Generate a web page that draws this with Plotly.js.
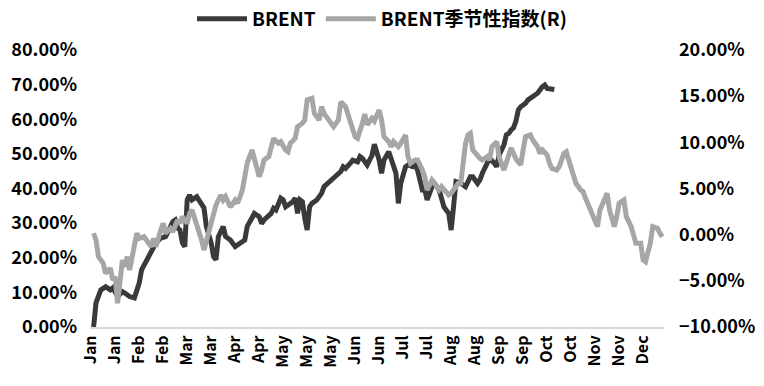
<!DOCTYPE html>
<html>
<head>
<meta charset="utf-8">
<script src="https://cdn.plot.ly/plotly-3.0.1.min.js"></script>
<style>html,body{margin:0;padding:0;background:#fff;}#chart{width:764px;height:386px;}</style>
</head>
<body>
<div id="chart"></div>
<script>
// Trading-day index within the year (x) and values in percent
var brentDays = [1,2,4,6,8,9,11,12,13,14,16,18,20,21,23,25,26,27,29,31,32,34,35,36,37,38,39,40,41,42,44,45,47,48,50,51,52,53,54,55,56,58,60,62,64,65,67,68,70,71,72,75,76,77,79,80,81,83,84,85,86,87,88,89,90,91,92,94,96,97,100,102,104,105,106,108,109,111,112,113,115,116,117,118,120,121,122,124,125,127,128,129,131,132,134,135,136,138,139,140,142,143,145,146,147,149,150,151,152,154,156,158,159,161,162,163,165,166,168,169,170,172,173,174,175,176,177,178,179,181,182,184,185,186,188,189,190,192,193];
var brentValues = [0,7,10.7,11.6,10.7,11.3,8.8,9.8,10.2,9.8,8.8,8.4,12.7,16.5,18.9,21.4,23.2,24.3,25.7,26.1,27.5,30.4,30.9,28.6,28.0,24.3,23.2,36.7,38.1,36.7,37.6,36.7,34.4,29.0,24.3,20.3,19.4,26.1,28.0,29.0,26.1,25.1,23.2,24.2,25.1,29.0,31.9,32.8,31.9,29.9,30.9,32.8,34.3,33.8,37.2,36.7,34.7,35.7,36.2,37.2,32.8,36.7,36.2,31.4,28.0,34.7,35.7,36.7,38.6,40.5,42.5,43.4,44.9,46.3,45.8,47.3,48.2,47.7,49.2,48.7,46.8,48.2,49.5,52.8,48.2,44.4,48.2,50.6,48.2,44.4,35.7,41.5,46.3,46.8,46.3,46.8,45.3,39.6,39.6,36.7,40.5,41.5,39.6,37.6,34.7,32.8,28.0,34.7,42.0,41.5,40.5,43.4,43.4,41.5,42.5,44.4,47.7,48.7,47.3,46.3,49.7,52.6,55.5,55.9,56.9,57.5,59.5,62.7,63.6,64.6,65.6,66.5,67.0,67.5,69.4,69.9,68.9,68.9,68.6];

var seasonDays = [1,2,3,5,6,8,9,10,11,12,13,14,15,16,18,19,20,22,23,25,26,27,29,30,31,33,34,36,37,38,40,41,42,43,45,46,47,48,50,51,52,54,55,56,57,58,60,61,63,64,65,67,68,70,71,72,74,75,76,78,79,81,82,83,85,86,88,89,90,92,93,95,96,97,99,100,101,103,104,106,107,108,110,111,113,114,115,117,118,120,121,122,124,125,126,128,129,131,132,133,135,136,138,139,140,142,143,145,146,147,149,150,152,153,154,156,157,158,159,161,162,163,165,166,167,169,170,172,174,175,177,179,180,181,183,184,186,187,188,190,191,192,194,195,197,198,199,201,202,204,205,206,208,209,211,212,213,215,216,218,219,220,222,223,225,226,227,229,230,231,233,234,236,237,238];
var seasonValues = [0.15,-0.58,-2.38,-3.1,-4.19,-3.64,-4.91,-4.55,-7.43,-5.27,-2.74,-3.47,-2.38,-3.83,-1.3,0.15,-0.4,-0.22,-0.58,-1.3,-0.4,-1.3,0.5,1.23,0.15,0.69,0.32,1.59,1.23,1.95,1.23,2.31,2.67,1.95,0.5,-0.58,-1.66,-0.58,1.23,2.67,3.21,4.3,3.75,4.11,3.6,3.0,3.75,3.4,4.84,6.28,7.73,9.17,8.09,6.28,7.0,8.09,8.45,9.53,10.43,9.89,10.07,9.17,8.99,9.89,10.43,11.7,12.06,12.42,14.59,14.77,13.14,12.42,13.86,13.14,12.42,12.24,11.7,12.42,14.4,13.86,12.78,12.24,10.61,10.43,12.06,13.05,11.9,12.6,12.3,13.5,12.42,10.61,10.07,9.53,10.07,9.53,9.89,10.8,8.45,7.73,8.09,8.09,7.0,6.28,4.84,5.92,5.56,4.84,5.2,4.84,4.3,4.48,5.2,5.56,5.56,9.89,10.8,10.98,9.17,8.45,8.27,8.09,8.45,8.09,9.53,10.07,8.4,7.0,8.45,9.4,8.2,7.55,9.17,10.61,10.8,10.25,9.53,8.81,9.17,8.63,7.73,7.18,7.0,7.36,8.81,8.99,8.09,6.28,5.56,4.84,4.66,3.94,2.67,1.95,0.87,2.67,3.4,4.48,2.67,0.87,1.95,3.4,3.75,1.95,0.87,-0.22,-0.94,-0.94,-2.74,-2.93,-0.94,0.87,0.69,0.15,-0.22];

var tickDays = [0,10,20,30,40,50,60,70,80,90,100,110,120,130,140,150,160,170,180,190,200,210,220,230];
var tickLabels = ['Jan','Jan','Feb','Feb','Mar','Mar','Apr','Apr','May','May','May','Jun','Jun','Jul','Jul','Aug','Aug','Sep','Sep','Oct','Oct','Nov','Nov','Dec'];

var leftTicks = [0,10,20,30,40,50,60,70,80];
var leftTickLabels = ['0.00%','10.00%','20.00%','30.00%','40.00%','50.00%','60.00%','70.00%','80.00%'];
var rightTicks = [-10,-5,0,5,10,15,20];
var rightTickLabels = ['\u221210.00%','\u22125.00%','0.00%','5.00%','10.00%','15.00%','20.00%'];

var fontFamily = '"Noto Sans CJK SC", "Liberation Sans", sans-serif';

var traces = [
  {
    x: brentDays, y: brentValues, name: 'BRENT', type: 'scatter', mode: 'lines',
    line: {color: '#3a3a3a', width: 5}, yaxis: 'y'
  },
  {
    x: seasonDays, y: seasonValues, name: 'BRENT季节性指数(R)', type: 'scatter', mode: 'lines',
    line: {color: '#a6a6a6', width: 5}, yaxis: 'y2'
  }
];

var layout = {
  width: 764, height: 386,
  margin: {l: 90, r: 100, t: 50, b: 59},
  paper_bgcolor: '#ffffff', plot_bgcolor: '#ffffff',
  font: {family: fontFamily, size: 18, color: '#000000', weight: 'bold'},
  showlegend: true,
  legend: {
    orientation: 'h', xref: 'container', yref: 'container',
    x: 0.5, xanchor: 'center', y: 1.0, yanchor: 'top',
    font: {family: fontFamily, size: 19, color: '#000000', weight: 'bold'},
    itemwidth: 50, tracegroupgap: 0
  },
  xaxis: {
    range: [-0.5, 238.7],
    tickmode: 'array', tickvals: tickDays, ticktext: tickLabels,
    tickangle: -90, ticks: '', showgrid: false, zeroline: false,
    showline: true, linecolor: '#d9d9d9', linewidth: 2,
    tickfont: {family: fontFamily, size: 16, color: '#000000', weight: 'bold'}
  },
  yaxis: {
    range: [0, 80], tickmode: 'array',
    tickvals: leftTicks, ticktext: leftTickLabels,
    showgrid: false, zeroline: false, showline: false, ticks: '',
    ticklabelstandoff: 12,
    tickfont: {family: fontFamily, size: 18, color: '#000000', weight: 'bold'}
  },
  yaxis2: {
    range: [-10, 20], overlaying: 'y', side: 'right', tickmode: 'array',
    tickvals: rightTicks, ticktext: rightTickLabels,
    showgrid: false, zeroline: false, showline: false, ticks: '',
    ticklabelstandoff: 14,
    tickfont: {family: fontFamily, size: 18, color: '#000000', weight: 'bold'}
  }
};

Plotly.newPlot('chart', traces, layout, {displayModeBar: false, staticPlot: true});
</script>
</body>
</html>
